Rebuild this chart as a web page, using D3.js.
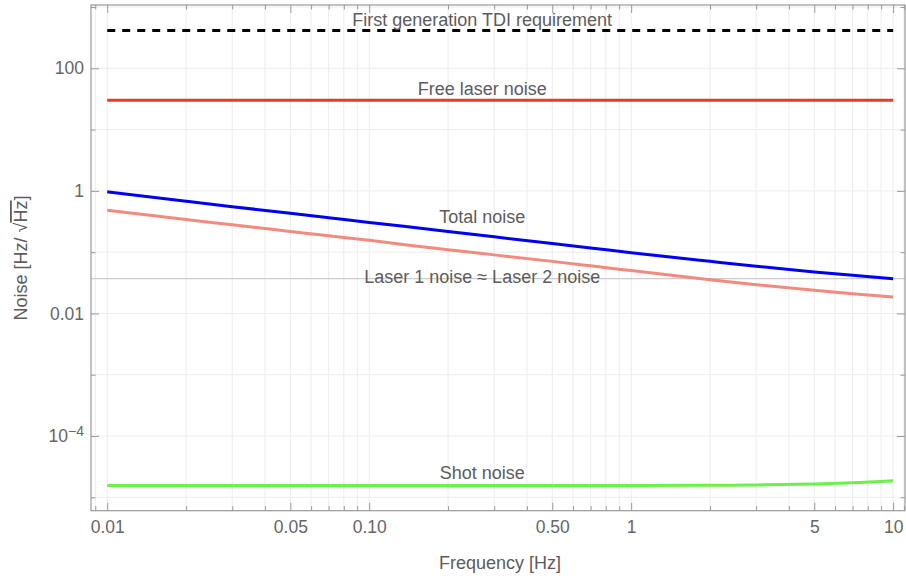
<!DOCTYPE html>
<html>
<head>
<meta charset="utf-8">
<script src="https://cdn.jsdelivr.net/npm/d3@7"></script>
<style>
  html, body { margin: 0; padding: 0; background: #fff; }
  svg { display: block; font-family: "Liberation Sans", Arial, Helvetica, sans-serif; }
</style>
</head>
<body>
<svg id="chart" width="906" height="576"></svg>
<script>
// Frequency grid (Hz) on which the noise spectra are sampled
const freqs = [0.01, 0.02, 0.03, 0.05, 0.07, 0.1, 0.2, 0.3, 0.5, 0.7, 1, 2, 3, 5, 7, 10];

// Amplitude spectral densities, Hz/√Hz
const totalNoise = [0.964, 0.676, 0.552, 0.431, 0.365, 0.306, 0.218, 0.178, 0.138, 0.117, 0.098, 0.0708, 0.0588, 0.0476, 0.0418, 0.0369];
const laserNoise = [0.481, 0.340, 0.280, 0.218, 0.185, 0.156, 0.109, 0.0903, 0.0707, 0.0598, 0.0500, 0.0354, 0.0294, 0.0238, 0.0209, 0.0185];
const shotNoise  = [1.55e-5, 1.55e-5, 1.55e-5, 1.55e-5, 1.55e-5, 1.55e-5, 1.55e-5, 1.55e-5, 1.55e-5, 1.55e-5, 1.55e-5, 1.57e-5, 1.59e-5, 1.65e-5, 1.72e-5, 1.86e-5];

// Flat levels
const freeLaserLevel = 30;
const tdiRequirement = 415;
const referenceLevel = 0.0369;

// Axis ticks
const xMajorTicks = [0.01, 0.05, 0.1, 0.5, 1, 5, 10];
const xMajorLabels = ["0.01", "0.05", "0.10", "0.50", "1", "5", "10"];
const xMinorTicks = [0.009, 0.02, 0.03, 0.04, 0.06, 0.07, 0.08, 0.09,
                     0.2, 0.3, 0.4, 0.6, 0.7, 0.8, 0.9,
                     2, 3, 4, 6, 7, 8, 9, 11];
const yMajorTicks = [100, 1, 0.01, 1e-4];
const yMajorLabels = ["100", "1", "0.01", "10^-4"];
const yMinorTicks = [1000, 10, 0.1, 0.001, 1e-5];

// Curve annotations: text, frequency and value at the text baseline
const labelTexts = ["First generation TDI requirement", "Free laser noise", "Total noise",
                    "Laser 1 noise \u2248 Laser 2 noise", "Shot noise"];
const labelFreqs = [0.27, 0.27, 0.27, 0.27, 0.27];
const labelValues = [490, 36.6, 0.295, 0.0318, 2.02e-5];

const svg = d3.select("#chart");
const plotLeft = 91, plotRight = 905, plotTop = 5, plotBottom = 510.7;

const x = d3.scaleLog().domain([0.00867, 11.1]).range([plotLeft, plotRight]);
const y = d3.scaleLog().domain([6.04e-6, 1079]).range([plotBottom, plotTop]);

const frameColor = "#999999";
const gridColor = "#ececec";
const textColor = "#5c5c5c";

// Grid
const grid = svg.append("g");
grid.selectAll("line.gx")
  .data(xMajorTicks.concat(xMinorTicks))
  .join("line")
  .attr("x1", d => x(d)).attr("x2", d => x(d))
  .attr("y1", plotTop).attr("y2", plotBottom)
  .attr("stroke", gridColor).attr("stroke-width", 1);
grid.selectAll("line.gy")
  .data(yMajorTicks.concat(yMinorTicks))
  .join("line")
  .attr("x1", plotLeft).attr("x2", plotRight)
  .attr("y1", d => y(d)).attr("y2", d => y(d))
  .attr("stroke", gridColor).attr("stroke-width", 1);

// Reference level
svg.append("line")
  .attr("x1", plotLeft).attr("x2", plotRight)
  .attr("y1", y(referenceLevel)).attr("y2", y(referenceLevel))
  .attr("stroke", "#cccccc").attr("stroke-width", 1.3);

// Axes (ticks point inward on all four sides)
function styleAxis(g) {
  g.select(".domain").remove();
  g.selectAll(".tick line").attr("stroke", frameColor);
  g.selectAll(".tick text").attr("fill", "#666").style("font-size", "17.5px");
}

svg.append("g").attr("transform", `translate(0,${plotBottom})`)
  .call(d3.axisBottom(x).tickValues(xMajorTicks).tickSize(-8).tickPadding(10)
    .tickFormat((d, i) => xMajorLabels[i]))
  .call(styleAxis);
svg.append("g").attr("transform", `translate(0,${plotBottom})`)
  .call(d3.axisBottom(x).tickValues(xMinorTicks).tickSize(-4.5).tickFormat(""))
  .call(styleAxis);
svg.append("g").attr("transform", `translate(0,${plotTop})`)
  .call(d3.axisTop(x).tickValues(xMajorTicks).tickSize(-8).tickFormat(""))
  .call(styleAxis);
svg.append("g").attr("transform", `translate(0,${plotTop})`)
  .call(d3.axisTop(x).tickValues(xMinorTicks).tickSize(-4.5).tickFormat(""))
  .call(styleAxis);

const yAxisG = svg.append("g").attr("transform", `translate(${plotLeft},0)`)
  .call(d3.axisLeft(y).tickValues(yMajorTicks).tickSize(-8).tickPadding(7)
    .tickFormat((d, i) => yMajorLabels[i]))
  .call(styleAxis);
svg.append("g").attr("transform", `translate(${plotLeft},0)`)
  .call(d3.axisLeft(y).tickValues(yMinorTicks).tickSize(-4.5).tickFormat(""))
  .call(styleAxis);
svg.append("g").attr("transform", `translate(${plotRight},0)`)
  .call(d3.axisRight(y).tickValues(yMajorTicks).tickSize(-8).tickFormat(""))
  .call(styleAxis);
svg.append("g").attr("transform", `translate(${plotRight},0)`)
  .call(d3.axisRight(y).tickValues(yMinorTicks).tickSize(-4.5).tickFormat(""))
  .call(styleAxis);

// Power-of-ten labels rendered with a superscript exponent
yAxisG.selectAll(".tick text").each(function() {
  const t = d3.select(this);
  const s = t.text();
  if (s.includes("^")) {
    const [base, exp] = s.split("^");
    t.text(base);
    t.append("tspan").attr("dy", "-0.45em").style("font-size", "14px")
      .text(exp.replace("-", "\u2212"));
  }
});

// Frame
svg.append("rect")
  .attr("x", plotLeft).attr("y", plotTop)
  .attr("width", plotRight - plotLeft).attr("height", plotBottom - plotTop)
  .attr("fill", "none").attr("stroke", frameColor).attr("stroke-width", 1.2);

// Curves
const line = d3.line().x(d => x(d[0])).y(d => y(d[1])).curve(d3.curveMonotoneX);

const flat = v => [[freqs[0], v], [freqs[freqs.length - 1], v]];

svg.append("path").datum(flat(tdiRequirement))
  .attr("d", line).attr("fill", "none")
  .attr("stroke", "#000").attr("stroke-width", 3).attr("stroke-dasharray", "8,7");
svg.append("path").datum(flat(freeLaserLevel))
  .attr("d", line).attr("fill", "none")
  .attr("stroke", "#e63a2e").attr("stroke-width", 3);
svg.append("path").datum(freqs.map((f, i) => [f, laserNoise[i]]))
  .attr("d", line).attr("fill", "none")
  .attr("stroke", "#f28a7e").attr("stroke-width", 3);
svg.append("path").datum(freqs.map((f, i) => [f, totalNoise[i]]))
  .attr("d", line).attr("fill", "none")
  .attr("stroke", "#0000f0").attr("stroke-width", 3);
svg.append("path").datum(freqs.map((f, i) => [f, shotNoise[i]]))
  .attr("d", line).attr("fill", "none")
  .attr("stroke", "#6cf04a").attr("stroke-width", 3);

// Curve annotations
svg.append("g").selectAll("text")
  .data(labelTexts)
  .join("text")
  .attr("x", (d, i) => x(labelFreqs[i]))
  .attr("y", (d, i) => y(labelValues[i]))
  .attr("text-anchor", "middle")
  .attr("fill", textColor)
  .style("font-size", "18px")
  .text(d => d);

// Axis titles
svg.append("text")
  .attr("x", 500).attr("y", 568.5)
  .attr("text-anchor", "middle")
  .attr("fill", textColor).style("font-size", "18px")
  .text("Frequency [Hz]");

const yTitle = svg.append("text")
  .attr("transform", "translate(27,258) rotate(-90)")
  .attr("text-anchor", "middle")
  .attr("fill", textColor).style("font-size", "18px");
yTitle.append("tspan").text("Noise [Hz/ ");
yTitle.append("tspan").text("\u221A");
yTitle.append("tspan").style("text-decoration", "overline").text("Hz");
yTitle.append("tspan").text("]");
</script>
</body>
</html>
